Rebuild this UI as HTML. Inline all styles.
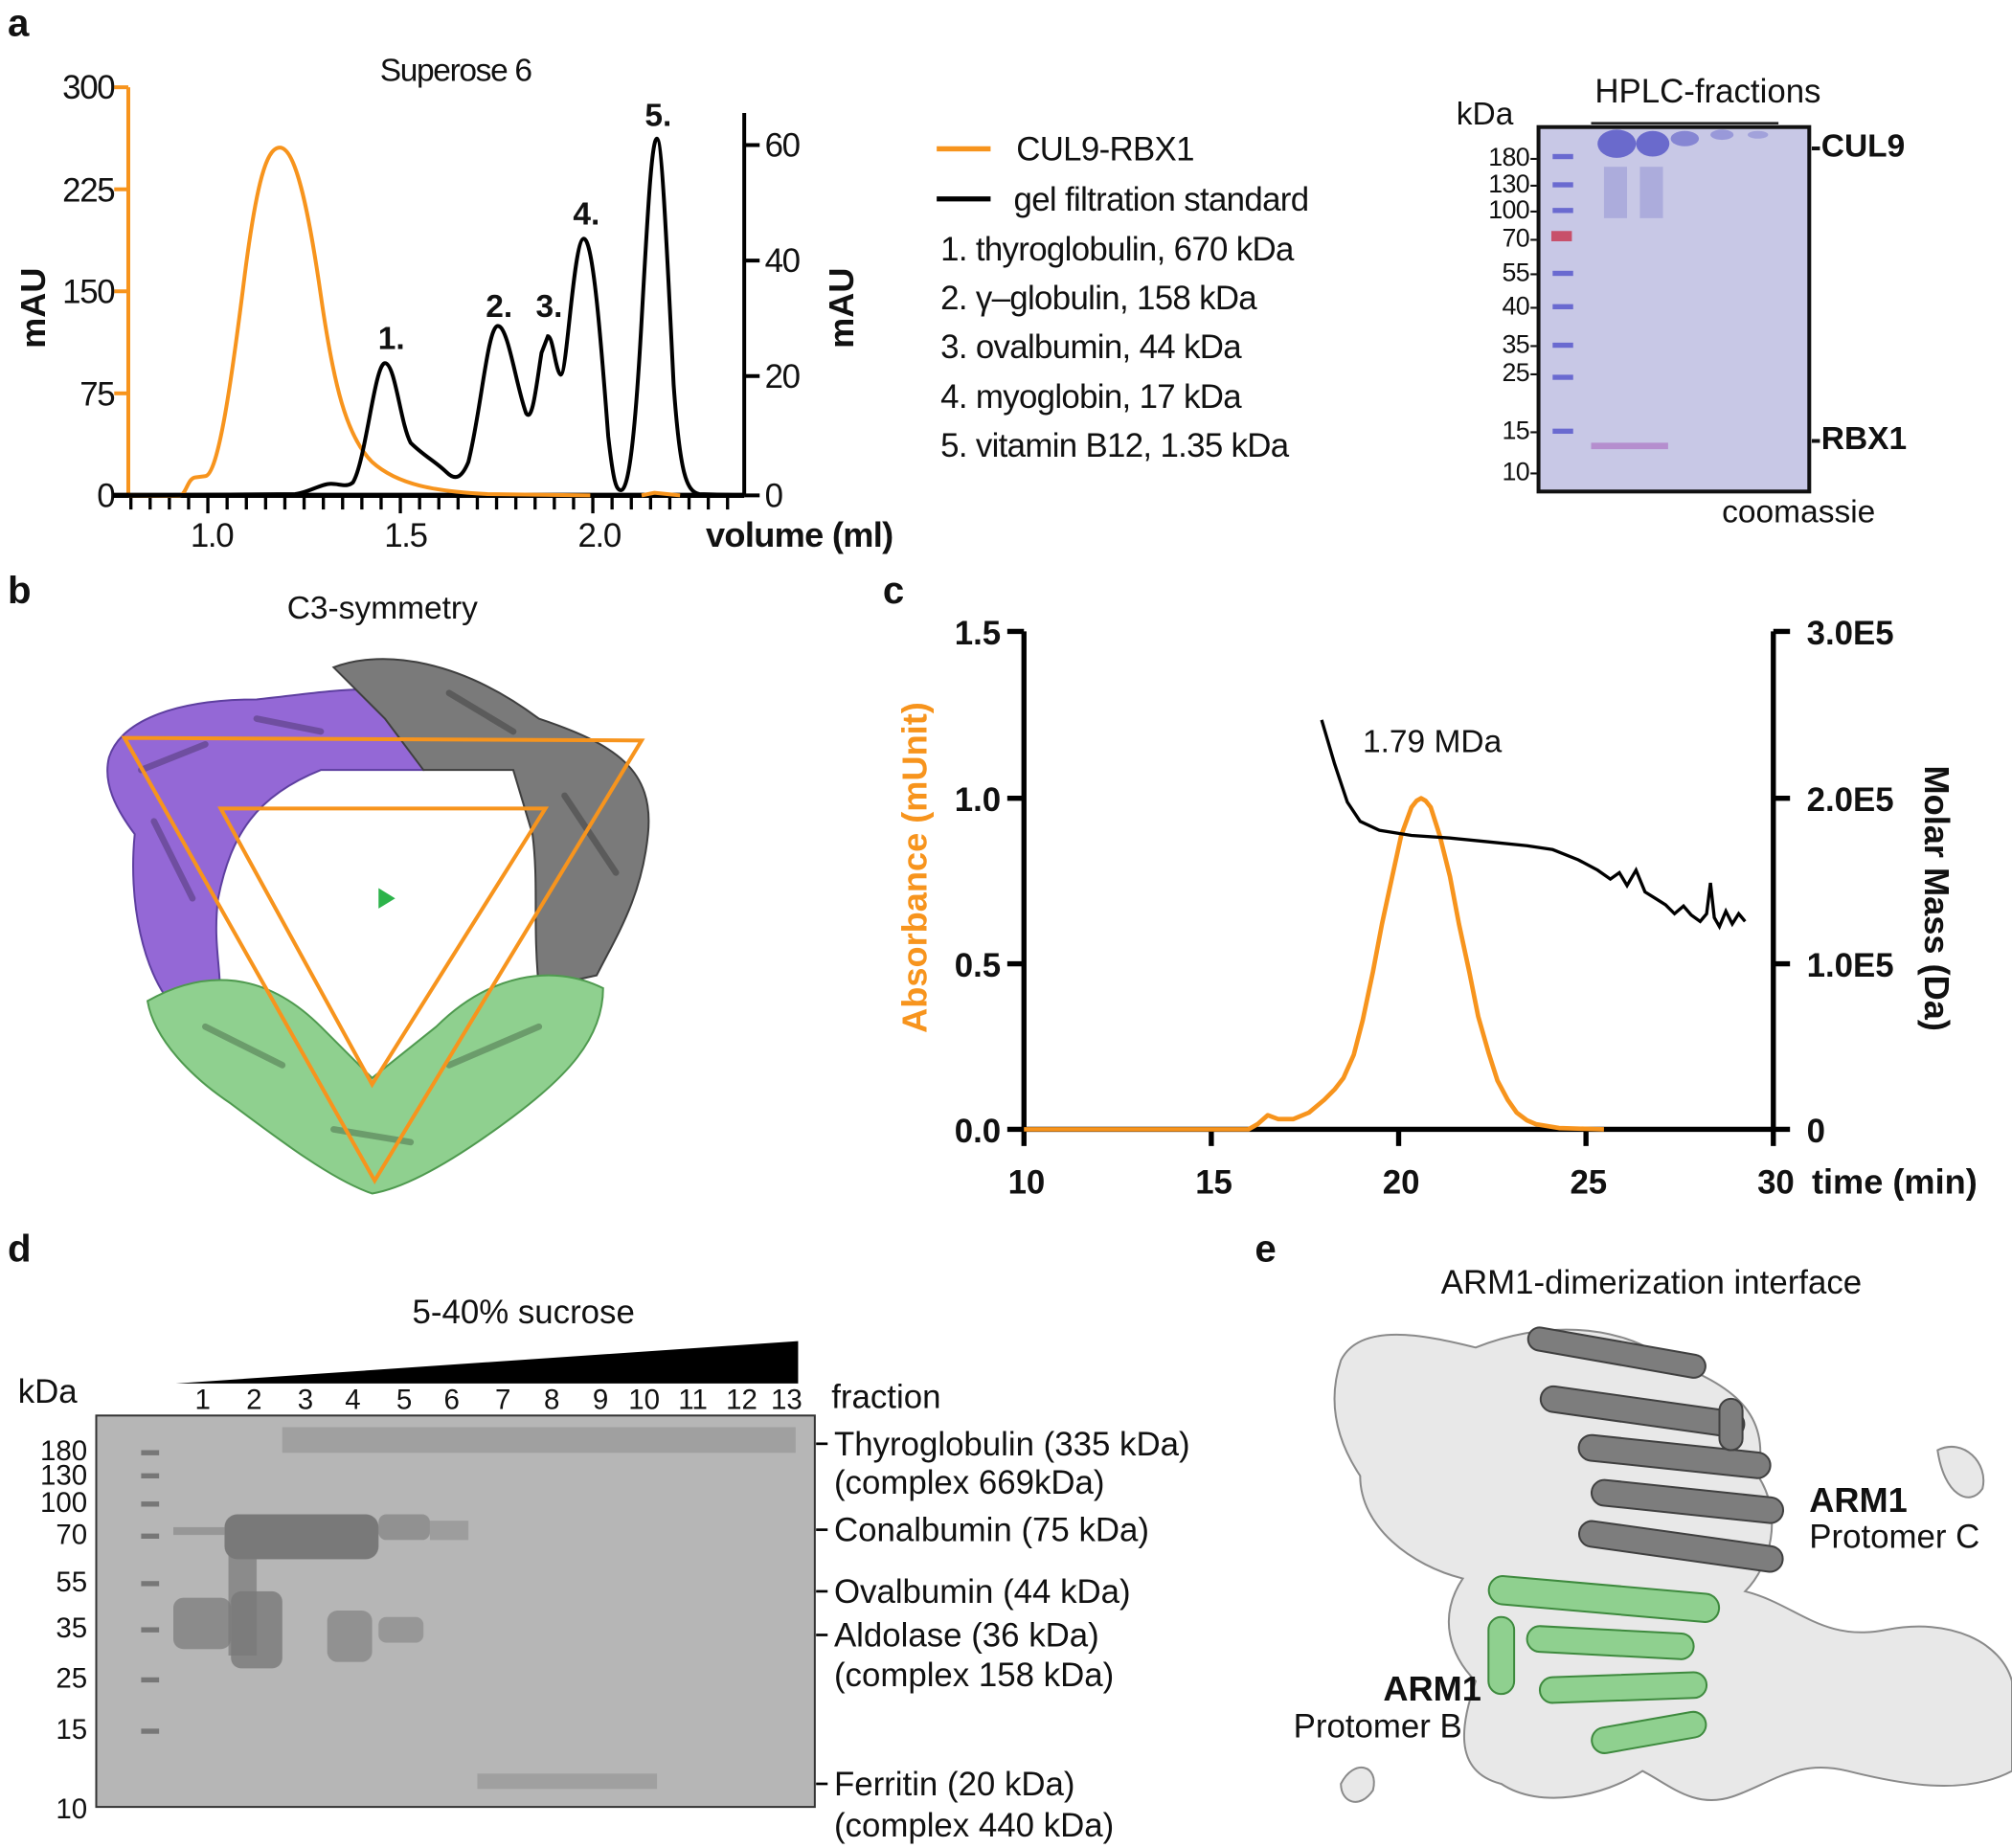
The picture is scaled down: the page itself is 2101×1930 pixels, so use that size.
<!DOCTYPE html>
<html><head><meta charset="utf-8"><style>
html,body{margin:0;padding:0;background:#fff;}
svg{display:block;}
text{font-family:"Liberation Sans",Arial,sans-serif;fill:#111;}
.b{font-weight:bold;}
</style></head><body>
<svg width="2101" height="1930" viewBox="0 0 1568 1440" preserveAspectRatio="none" xmlns="http://www.w3.org/2000/svg">
<rect width="1568" height="1440" fill="#fff"/>
<!-- ===== Panel a ===== -->
<text x="6" y="28" font-size="30" class="b">a</text>
<text x="355" y="63" font-size="25" text-anchor="middle" letter-spacing="-1">Superose 6</text>
<line x1="100" y1="68" x2="100" y2="386" stroke="#f7941d" stroke-width="3"/>
<g stroke="#f7941d" stroke-width="3">
<line x1="89" y1="68" x2="100" y2="68"/><line x1="89" y1="147.5" x2="100" y2="147.5"/><line x1="89" y1="227" x2="100" y2="227"/><line x1="89" y1="306.5" x2="100" y2="306.5"/>
</g>
<g font-size="26" text-anchor="end" letter-spacing="-1">
<text x="89" y="77">300</text><text x="89" y="157">225</text><text x="89" y="236">150</text><text x="89" y="316">75</text><text x="89" y="395">0</text>
</g>
<text transform="translate(35,240) rotate(-90)" font-size="27" class="b" text-anchor="middle">mAU</text>
<line x1="580" y1="88" x2="580" y2="386" stroke="#000" stroke-width="3"/>
<g stroke="#000" stroke-width="3"><line x1="580" y1="113" x2="592" y2="113"/><line x1="580" y1="203" x2="592" y2="203"/><line x1="580" y1="293" x2="592" y2="293"/><line x1="580" y1="386" x2="592" y2="386"/></g>
<g font-size="26" letter-spacing="-1"><text x="596" y="122">60</text><text x="596" y="212">40</text><text x="596" y="302">20</text><text x="596" y="395">0</text></g>
<text transform="translate(665,240) rotate(-90)" font-size="27" class="b" text-anchor="middle">mAU</text>
<line x1="88" y1="386" x2="580" y2="386" stroke="#000" stroke-width="4"/>
<g stroke="#000" stroke-width="2.5">
<line x1="102" y1="386" x2="102" y2="397"/><line x1="117" y1="386" x2="117" y2="397"/><line x1="132" y1="386" x2="132" y2="397"/><line x1="147" y1="386" x2="147" y2="397"/><line x1="162" y1="386" x2="162" y2="400"/><line x1="177" y1="386" x2="177" y2="397"/><line x1="192" y1="386" x2="192" y2="397"/><line x1="207" y1="386" x2="207" y2="397"/><line x1="222" y1="386" x2="222" y2="397"/><line x1="237" y1="386" x2="237" y2="397"/><line x1="252" y1="386" x2="252" y2="397"/><line x1="267" y1="386" x2="267" y2="397"/><line x1="282" y1="386" x2="282" y2="397"/><line x1="297" y1="386" x2="297" y2="397"/><line x1="312" y1="386" x2="312" y2="400"/><line x1="327" y1="386" x2="327" y2="397"/><line x1="342" y1="386" x2="342" y2="397"/><line x1="357" y1="386" x2="357" y2="397"/><line x1="372" y1="386" x2="372" y2="397"/><line x1="387" y1="386" x2="387" y2="397"/><line x1="402" y1="386" x2="402" y2="397"/><line x1="417" y1="386" x2="417" y2="397"/><line x1="432" y1="386" x2="432" y2="397"/><line x1="447" y1="386" x2="447" y2="397"/><line x1="462" y1="386" x2="462" y2="400"/><line x1="477" y1="386" x2="477" y2="397"/><line x1="492" y1="386" x2="492" y2="397"/><line x1="507" y1="386" x2="507" y2="397"/><line x1="522" y1="386" x2="522" y2="397"/><line x1="537" y1="386" x2="537" y2="397"/><line x1="552" y1="386" x2="552" y2="397"/><line x1="567" y1="386" x2="567" y2="397"/>
</g>
<g font-size="26" text-anchor="middle" letter-spacing="-1"><text x="165" y="426">1.0</text><text x="316" y="426">1.5</text><text x="467" y="426">2.0</text></g>
<text x="550" y="426" font-size="27" class="b" letter-spacing="-0.5">volume (ml)</text>
<path d="M100,386 L140,386 C145,386 146,373 152,372 L160,371 C170,370 180,300 190,220 C200,140 208,115 218,115 C230,115 240,160 250,230 C260,300 270,340 290,360 C310,378 340,383 380,385 L460,386 M500,386 L510,384 L530,386" fill="none" stroke="#f7941d" stroke-width="3"/>
<path d="M100,386 L230,385 C240,384 250,377 258,377 C265,377 270,380 275,376 C285,360 292,283 300,283 C308,283 312,330 320,345 C330,355 340,360 348,368 C355,375 360,372 365,360 C375,320 380,254 388,254 C396,254 402,300 410,322 C415,330 418,300 422,275 L427,262 C431,262 433,290 437,292 C442,292 447,186 455,186 C462,186 468,260 474,340 C478,375 480,382 484,382 C490,382 495,340 500,250 C505,160 508,108 512,108 C516,108 520,200 525,300 C530,370 535,383 545,385 L580,386" fill="none" stroke="#000" stroke-width="3"/>
<g font-size="25" class="b" text-anchor="middle"><text x="305" y="272">1.</text><text x="389" y="247">2.</text><text x="428" y="247">3.</text><text x="457" y="175">4.</text><text x="513" y="98">5.</text></g>
<line x1="730" y1="116" x2="772" y2="116" stroke="#f7941d" stroke-width="4"/>
<text x="792" y="125" font-size="26" letter-spacing="-0.5">CUL9-RBX1</text>
<line x1="730" y1="155" x2="772" y2="155" stroke="#000" stroke-width="4"/>
<text x="790" y="164" font-size="26" letter-spacing="-0.5">gel filtration standard</text>
<g font-size="26" letter-spacing="-0.5">
<text x="733" y="203">1. thyroglobulin, 670 kDa</text>
<text x="733" y="241">2. γ–globulin, 158 kDa</text>
<text x="733" y="279">3. ovalbumin, 44 kDa</text>
<text x="733" y="318">4. myoglobin, 17 kDa</text>
<text x="733" y="356">5. vitamin B12, 1.35 kDa</text>
</g>
<text x="1135" y="97" font-size="25">kDa</text>
<text x="1331" y="80" font-size="26" text-anchor="middle">HPLC-fractions</text>
<line x1="1240" y1="96" x2="1386" y2="96" stroke="#222" stroke-width="2"/>
<rect x="1199" y="99" width="211" height="284" fill="#c8c8e6" stroke="#111" stroke-width="3"/>
<g fill="#5a5ac8" opacity="0.85">
<ellipse cx="1260" cy="112" rx="15" ry="11"/><ellipse cx="1288" cy="112" rx="13" ry="10"/><ellipse cx="1313" cy="108" rx="11" ry="6" opacity="0.7"/><ellipse cx="1342" cy="105" rx="9" ry="4" opacity="0.5"/><ellipse cx="1370" cy="105" rx="8" ry="3" opacity="0.4"/>
</g>
<g fill="#9a9ad6" opacity="0.6"><rect x="1250" y="130" width="18" height="40"/><rect x="1278" y="130" width="18" height="40"/></g>
<g fill="#6a6ad0"><rect x="1210" y="120" width="16" height="4"/><rect x="1210" y="142" width="16" height="4"/><rect x="1210" y="162" width="16" height="4"/><rect x="1210" y="211" width="16" height="4"/><rect x="1210" y="237" width="16" height="4"/><rect x="1210" y="267" width="16" height="4"/><rect x="1210" y="292" width="16" height="4"/><rect x="1210" y="334" width="16" height="4"/></g>
<rect x="1209" y="180" width="16" height="8" fill="#c8506a"/>
<rect x="1240" y="345" width="60" height="5" fill="#b080c8" opacity="0.8"/>
<g font-size="20" text-anchor="end" letter-spacing="-0.5">
<text x="1198" y="129">180-</text><text x="1198" y="150">130-</text><text x="1198" y="170">100-</text><text x="1198" y="192">70-</text><text x="1198" y="219">55-</text><text x="1198" y="245">40-</text><text x="1198" y="275">35-</text><text x="1198" y="297">25-</text><text x="1198" y="342">15-</text><text x="1198" y="374">10-</text>
</g>
<text x="1411" y="122" font-size="25" class="b">-CUL9</text>
<text x="1411" y="350" font-size="25" class="b">-RBX1</text>
<text x="1342" y="407" font-size="25">coomassie</text>
<!-- ===== Panel b ===== -->
<text x="6" y="470" font-size="30" class="b">b</text>
<text x="298" y="482" font-size="25" text-anchor="middle">C3-symmetry</text>
<g stroke-width="1.5">
<path d="M85,590 C95,560 140,545 200,545 C250,540 300,530 330,545 L330,600 L250,600 C200,620 180,650 170,700 C165,740 175,760 170,790 L140,790 C110,760 100,700 105,650 C90,630 80,610 85,590 Z" fill="#9468d6" stroke="#5e3fa0"/>
<path d="M260,520 C300,505 360,515 420,560 C480,580 510,600 505,650 C500,700 480,730 465,760 L420,770 C415,720 420,690 415,650 L400,600 L330,600 L300,560 Z" fill="#7a7a7a" stroke="#3f3f3f"/>
<path d="M115,780 C150,760 200,750 250,800 L290,840 L340,800 C380,760 430,750 470,770 C470,810 440,840 400,870 C360,900 320,925 290,930 C260,920 220,890 180,860 C150,840 120,810 115,780 Z" fill="#8fd08f" stroke="#4f9a4f"/>
</g>
<g stroke="#000" stroke-opacity="0.25" stroke-width="5" stroke-linecap="round">
<line x1="110" y1="600" x2="160" y2="580"/><line x1="120" y1="640" x2="150" y2="700"/><line x1="200" y1="560" x2="250" y2="570"/><line x1="350" y1="540" x2="400" y2="570"/><line x1="440" y1="620" x2="480" y2="680"/><line x1="160" y1="800" x2="220" y2="830"/><line x1="350" y1="830" x2="420" y2="800"/><line x1="260" y1="880" x2="320" y2="890"/>
</g>
<polygon points="97,575 500,577 292,920" fill="none" stroke="#f7941d" stroke-width="3"/>
<polygon points="172,630 425,630 290,845" fill="none" stroke="#f7941d" stroke-width="3"/>
<polygon points="295,692 295,708 308,700" fill="#2cb34a"/>
<!-- ===== Panel c ===== -->
<text x="688" y="470" font-size="30" class="b">c</text>
<line x1="798" y1="492" x2="798" y2="880" stroke="#000" stroke-width="4"/>
<line x1="1382" y1="492" x2="1382" y2="880" stroke="#000" stroke-width="4"/>
<line x1="785" y1="880" x2="1382" y2="880" stroke="#000" stroke-width="4"/>
<g stroke="#000" stroke-width="4">
<line x1="785" y1="492" x2="798" y2="492"/><line x1="785" y1="622" x2="798" y2="622"/><line x1="785" y1="751" x2="798" y2="751"/>
<line x1="1382" y1="492" x2="1395" y2="492"/><line x1="1382" y1="622" x2="1395" y2="622"/><line x1="1382" y1="751" x2="1395" y2="751"/><line x1="1382" y1="880" x2="1395" y2="880"/>
<line x1="798" y1="880" x2="798" y2="893"/><line x1="944" y1="880" x2="944" y2="893"/><line x1="1090" y1="880" x2="1090" y2="893"/><line x1="1236" y1="880" x2="1236" y2="893"/><line x1="1382" y1="880" x2="1382" y2="893"/>
</g>
<g font-size="26" class="b" text-anchor="end" style="fill:#f7941d"><text x="780" y="502" fill="#f7941d">1.5</text><text x="780" y="632" fill="#f7941d">1.0</text><text x="780" y="761" fill="#f7941d">0.5</text><text x="780" y="890" fill="#f7941d">0.0</text></g>
<g font-size="26" class="b"><text x="1408" y="502">3.0E5</text><text x="1408" y="632">2.0E5</text><text x="1408" y="761">1.0E5</text><text x="1408" y="890">0</text></g>
<g font-size="26" class="b" text-anchor="middle"><text x="800" y="930">10</text><text x="946" y="930">15</text><text x="1092" y="930">20</text><text x="1238" y="930">25</text><text x="1384" y="930">30</text></g>
<text x="1412" y="930" font-size="27" class="b">time (min)</text>
<text transform="translate(722,676) rotate(-90)" font-size="27" class="b" text-anchor="middle" fill="#f7941d" style="fill:#f7941d">Absorbance (mUnit)</text>
<text transform="translate(1500,700) rotate(90)" font-size="27" class="b" text-anchor="middle">Molar Mass (Da)</text>
<text x="1062" y="586" font-size="25">1.79 MDa</text>
<polyline points="798,880 973,880 980,876 988,869 996,872 1008,872 1020,867 1032,857 1040,849 1047,840 1055,822 1062,795 1070,757 1077,720 1085,683 1092,651 1100,629 1104,624 1107.5,622 1111,624 1115,629 1122,651 1130,683 1137,720 1145,757 1152,792 1160,820 1167,842 1175,857 1182,867 1190,873 1197,876 1215,879 1250,880" fill="none" stroke="#f7941d" stroke-width="3.5" stroke-linejoin="round"/>
<polyline points="1030,561 1040,595 1050,625 1060,640 1075,647 1100,651 1130,653 1160,656 1190,659 1210,662 1230,670 1245,678 1255,685 1262,680 1268,690 1275,678 1282,695 1290,700 1298,705 1305,712 1312,706 1318,713 1325,718 1330,712 1333,688 1336,715 1340,722 1345,710 1350,720 1355,712 1360,718" fill="none" stroke="#000" stroke-width="2.5"/>
<!-- ===== Panel d ===== -->
<text x="6" y="983" font-size="30" class="b">d</text>
<text x="408" y="1031" font-size="26" text-anchor="middle">5-40% sucrose</text>
<polygon points="137,1078 622,1078 622,1045" fill="#000"/>
<g font-size="22" text-anchor="middle"><text x="158" y="1098">1</text><text x="198" y="1098">2</text><text x="238" y="1098">3</text><text x="275" y="1098">4</text><text x="315" y="1098">5</text><text x="352" y="1098">6</text><text x="392" y="1098">7</text><text x="430" y="1098">8</text><text x="468" y="1098">9</text><text x="502" y="1098">10</text><text x="540" y="1098">11</text><text x="578" y="1098">12</text><text x="613" y="1098">13</text></g>
<text x="648" y="1097" font-size="26">fraction</text>
<text x="14" y="1093" font-size="26">kDa</text>
<rect x="75" y="1103" width="560" height="305" fill="#b6b6b6" stroke="#333" stroke-width="1.5"/>
<g fill="#6e6e6e" opacity="0.85">
<rect x="175" y="1180" width="120" height="35" rx="10"/><rect x="178" y="1210" width="22" height="80" opacity="0.7"/>
<rect x="135" y="1245" width="45" height="40" rx="8" opacity="0.7"/><rect x="180" y="1240" width="40" height="60" rx="8" opacity="0.8"/>
<rect x="255" y="1255" width="35" height="40" rx="8" opacity="0.6"/><rect x="295" y="1180" width="40" height="20" rx="6" opacity="0.6"/>
<rect x="295" y="1260" width="35" height="20" rx="6" opacity="0.5"/><rect x="335" y="1185" width="30" height="15" opacity="0.4"/>
<rect x="220" y="1112" width="400" height="20" opacity="0.35"/>
<rect x="372" y="1382" width="140" height="12" opacity="0.35"/>
<rect x="135" y="1190" width="40" height="6" opacity="0.5"/>
</g>
<g fill="#777"><rect x="110" y="1130" width="14" height="4"/><rect x="110" y="1148" width="14" height="4"/><rect x="110" y="1170" width="14" height="4"/><rect x="110" y="1195" width="14" height="4"/><rect x="110" y="1232" width="14" height="4"/><rect x="110" y="1268" width="14" height="4"/><rect x="110" y="1307" width="14" height="4"/><rect x="110" y="1347" width="14" height="4"/></g>
<g font-size="22" text-anchor="end"><text x="68" y="1138">180</text><text x="68" y="1157">130</text><text x="68" y="1178">100</text><text x="68" y="1203">70</text><text x="68" y="1240">55</text><text x="68" y="1276">35</text><text x="68" y="1315">25</text><text x="68" y="1355">15</text><text x="68" y="1417">10</text></g>
<g stroke="#000" stroke-width="2"><line x1="636" y1="1125" x2="645" y2="1125"/><line x1="636" y1="1192" x2="645" y2="1192"/><line x1="636" y1="1240" x2="645" y2="1240"/><line x1="636" y1="1274" x2="645" y2="1274"/><line x1="636" y1="1390" x2="645" y2="1390"/></g>
<g font-size="26"><text x="650" y="1134">Thyroglobulin (335 kDa)</text><text x="650" y="1164">(complex 669kDa)</text><text x="650" y="1201">Conalbumin (75 kDa)</text><text x="650" y="1249">Ovalbumin (44 kDa)</text><text x="650" y="1283">Aldolase (36 kDa)</text><text x="650" y="1314">(complex 158 kDa)</text><text x="650" y="1399">Ferritin (20 kDa)</text><text x="650" y="1431">(complex 440 kDa)</text></g>
<!-- ===== Panel e ===== -->
<text x="978" y="983" font-size="30" class="b">e</text>
<text x="1287" y="1008" font-size="26" text-anchor="middle">ARM1-dimerization interface</text>
<g fill="#e8e8e8" stroke="#8a8a8a" stroke-width="1.5">
<path d="M1045,1060 C1060,1030 1110,1040 1150,1050 C1200,1030 1260,1030 1300,1060 C1350,1080 1380,1100 1370,1150 C1390,1180 1380,1220 1360,1240 C1400,1250 1420,1280 1470,1270 C1520,1260 1560,1280 1568,1310 L1568,1380 C1530,1400 1480,1390 1440,1380 C1400,1370 1380,1390 1350,1400 C1320,1410 1300,1390 1280,1380 C1250,1400 1200,1410 1170,1390 C1130,1380 1140,1340 1150,1310 C1130,1290 1120,1260 1140,1230 C1100,1220 1060,1190 1060,1150 C1040,1120 1035,1090 1045,1060 Z"/>
<path d="M1510,1130 C1530,1120 1550,1140 1545,1160 C1535,1175 1515,1165 1510,1130 Z"/>
<path d="M1045,1390 C1055,1370 1075,1375 1070,1395 C1060,1410 1045,1405 1045,1390 Z"/>
</g>
<g fill="#7d7d7d" stroke="#404040" stroke-width="1.5">
<rect x="1190" y="1045" width="140" height="18" rx="9" transform="rotate(10 1260 1054)"/>
<rect x="1200" y="1090" width="160" height="20" rx="10" transform="rotate(8 1280 1100)"/>
<rect x="1230" y="1125" width="150" height="20" rx="10" transform="rotate(6 1305 1135)"/>
<rect x="1240" y="1160" width="150" height="20" rx="10" transform="rotate(6 1315 1170)"/>
<rect x="1230" y="1195" width="160" height="20" rx="10" transform="rotate(8 1310 1205)"/>
<rect x="1340" y="1090" width="18" height="40" rx="9"/>
</g>
<g fill="#8fd08f" stroke="#3e8a3e" stroke-width="1.5">
<rect x="1160" y="1235" width="180" height="22" rx="11" transform="rotate(5 1250 1246)"/>
<rect x="1190" y="1270" width="130" height="20" rx="10" transform="rotate(3 1255 1280)"/>
<rect x="1200" y="1305" width="130" height="20" rx="10" transform="rotate(-2 1265 1315)"/>
<rect x="1240" y="1340" width="90" height="20" rx="10" transform="rotate(-10 1285 1350)"/>
<rect x="1160" y="1260" width="20" height="60" rx="10"/>
</g>
<text x="1410" y="1178" font-size="27" class="b">ARM1</text>
<text x="1410" y="1206" font-size="26">Protomer C</text>
<text x="1078" y="1325" font-size="27" class="b">ARM1</text>
<text x="1008" y="1354" font-size="26">Protomer B</text>
</svg>
</body></html>
